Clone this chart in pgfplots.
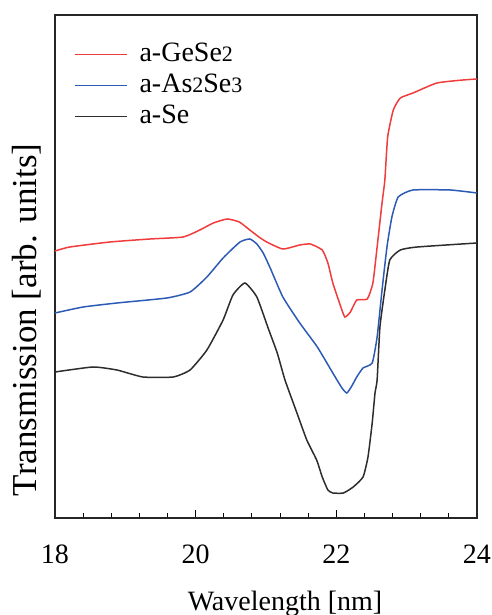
\documentclass[border=0pt]{standalone}
\usepackage{fontspec}
\setmainfont{Liberation Serif}
\usepackage{pgfplots}
\pgfplotsset{compat=1.18}
\definecolor{cred}{RGB}{240,60,60}
\definecolor{cblue}{RGB}{45,90,180}
\definecolor{cblack}{RGB}{45,45,45}
\pgfplotstableread{
x y
18.00 267
18.21 271
18.78 276
19.35 279
19.82 281
20.06 288
20.25 295
20.45 299
20.62 296
20.77 288
20.90 281
21.01 276
21.24 269
21.48 273
21.63 274
21.80 268
21.88 255
21.95 235
22.05 214
22.12 201
22.20 206
22.29 218
22.44 219
22.52 235
22.58 271
22.65 315
22.69 338
22.73 381
22.81 408
22.91 420
23.09 425
23.43 435
23.80 438
24.00 439
}\redtab
\pgfplotstableread{
x y
18.00 205
18.40 211
18.88 215
19.59 220
19.92 226
20.16 241
20.39 260
20.63 276
20.77 279
20.87 274
20.96 265
21.06 250
21.24 221
21.48 195
21.73 171
21.95 145
22.08 130
22.15 125
22.22 132
22.29 141
22.38 150
22.51 155
22.58 181
22.65 228
22.72 271
22.79 301
22.88 321
23.09 328
23.62 328
24.00 325
}\bluetab
\pgfplotstableread{
x y
18.00 146
18.54 151
18.88 148
19.25 141
19.68 141
19.92 148
20.16 168
20.39 198
20.53 223
20.70 235
20.87 221
21.03 190
21.16 165
21.27 138
21.44 105
21.58 78
21.72 58
21.80 41
21.88 28
21.95 25
22.10 25
22.24 31
22.38 41
22.45 61
22.51 95
22.55 125
22.58 138
22.62 191
22.69 228
22.76 258
22.91 268
23.15 271
24.00 275
}\blacktab
\begin{document}
\begin{tikzpicture}
\useasboundingbox (-27.5pt,-48.5pt) rectangle (218.5pt,259pt);
\begin{axis}[
  at={(0pt,0pt)}, anchor=south west,
  scale only axis, width=211pt, height=251.5pt,
  xmin=18, xmax=24, ymin=0, ymax=503,
  xtick={18,20,22,24}, minor x tick num=4,
  xtick pos=lower, ytick=\empty,
  tick align=inside,
  major tick length=4pt, minor tick length=2.5pt,
  every tick/.style={black, line width=0.5pt},
  axis line style={line width=1pt, black!85},
  tick label style={font=\fontsize{14}{16}\selectfont},
  /pgf/number format/assume math mode=true,
  xticklabel style={yshift=-10pt},
  xlabel={Wavelength [nm]},
  xlabel style={at={(axis description cs:0.545,-0.183)}, anchor=base, font=\fontsize{14}{16}\selectfont},
  ylabel={Transmission [arb. units]},
  ylabel style={at={(axis description cs:-0.0427,0.394)}, anchor=base, rotate=0, font=\fontsize{17.5}{19}\selectfont},
  legend style={at={(axis description cs:0.03,0.96)}, anchor=north west, draw=none, fill=none,
    font=\fontsize{14}{16}\selectfont, row sep=0.5pt, column sep=5pt,
    nodes={text height=10pt, text depth=3pt, inner sep=1pt}},
  legend cell align=left,
  legend image code/.code={\draw[#1] (0pt,0pt) -- (26pt,0pt);},
]
\addplot[cred, line width=0.75pt, smooth, tension=0.3] table[x=x,y=y] {\redtab};
\addlegendentry{a-GeSe{\fontsize{11}{11}\selectfont 2}}
\addplot[cblue, line width=0.75pt, smooth, tension=0.3] table[x=x,y=y] {\bluetab};
\addlegendentry{a-As{\fontsize{11}{11}\selectfont 2}Se{\fontsize{11}{11}\selectfont 3}}
\addplot[cblack, line width=0.75pt, smooth, tension=0.3] table[x=x,y=y] {\blacktab};
\addlegendentry{a-Se}
\end{axis}
\end{tikzpicture}
\end{document}
